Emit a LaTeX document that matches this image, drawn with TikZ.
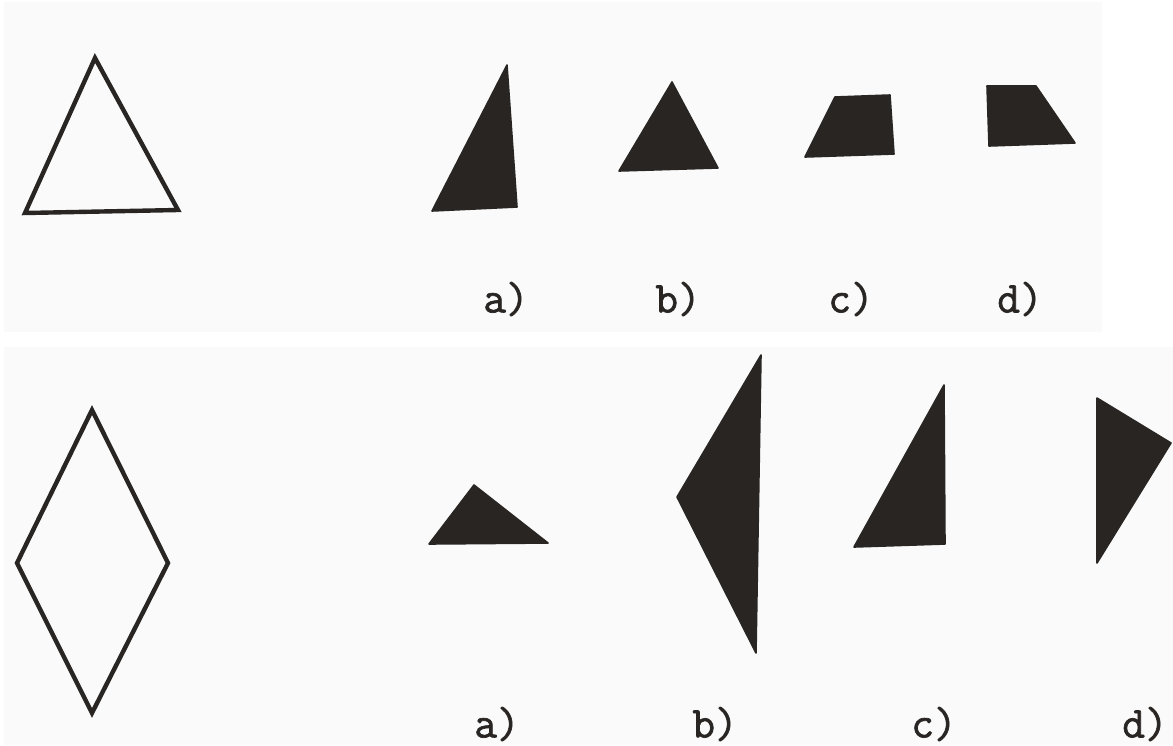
\documentclass[tikz,border=0pt]{standalone}
\usepackage{fontspec}
\usepackage{xcolor}
\usepackage{tikz}
\usetikzlibrary{calc}

\newfontfamily\labelfont[FakeBold=1.6]{Latin Modern Mono}
\definecolor{ink}{RGB}{40,37,35}
\definecolor{paper}{RGB}{250,250,250}

\tikzset{
  outline/.style={draw=ink,line width=2.2pt,line join=miter},
  piece/.style={fill=ink,draw=ink,line width=0.8pt,line join=round},
  lbl/.style={font=\fontsize{22}{24}\labelfont,text=ink,inner sep=0pt}
}

\begin{document}
\begin{tikzpicture}[x=0.5pt,y=-0.5pt]
  \useasboundingbox (0,0) rectangle (1173,745);
  \fill[white] (0,0) rectangle (1173,745);
  \fill[paper] (4,2) rectangle (1102,332);
  \fill[paper] (4,347) rectangle (1173,745);
  % top row: outline triangle and four pieces
  \draw[outline] (95,58) -- (25,213) -- (178,210) -- cycle;
  \fill[piece] (507,65) -- (432,211) -- (517,207) -- cycle;
  \fill[piece] (672,82) -- (619,171) -- (718,168) -- cycle;
  \fill[piece] (835,97) -- (890,95) -- (894,154) -- (805,157) -- cycle;
  \fill[piece] (987,86) -- (1036,86) -- (1075,143) -- (989,146) -- cycle;
  \foreach \t/\x in {a/506, b/678, c/851, d/1020}
    \node[lbl] (top-\t) at (\x,299) {\t)};
  % bottom row: outline rhombus and four pieces
  \draw[outline] (92,410) -- (168,563) -- (92,713) -- (17,563) -- cycle;
  \fill[piece] (474,485) -- (429,544) -- (548,543) -- cycle;
  \fill[piece] (761,355) -- (677,497) -- (756,653) -- cycle;
  \fill[piece] (944,385) -- (854,547) -- (945,544) -- cycle;
  \fill[piece] (1097,398) -- (1171,443) -- (1097,563) -- cycle;
  \foreach \t/\x in {a/497, b/715, c/934, d/1145}
    \node[lbl] (bot-\t) at (\x,724) {\t)};
\end{tikzpicture}
\end{document}
